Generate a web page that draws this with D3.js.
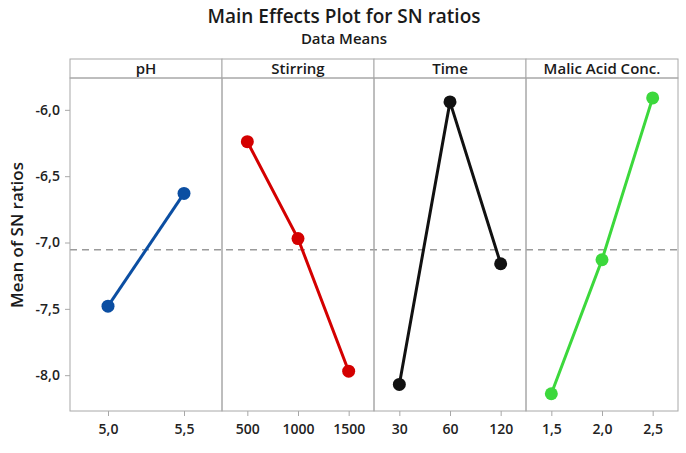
<!DOCTYPE html>
<html>
<head>
<meta charset="utf-8">
<script src="https://cdn.jsdelivr.net/npm/d3@7"></script>
<style>
  body { margin: 0; background: #fff; }
  svg { font-family: "Open Sans", sans-serif; }
</style>
</head>
<body>
<script>
const wid = 686, hei = 453;

// factors and their levels
const factors = ['pH', 'Stirring', 'Time', 'Malic Acid Conc.'];
const levels = [
    ['5,0', '5,5'],
    ['500', '1000', '1500'],
    ['30', '60', '120'],
    ['1,5', '2,0', '2,5']
];
// mean SN ratio per level
const snMeans = [
    [-7.48, -6.63],
    [-6.24, -6.97, -7.97],
    [-8.07, -5.94, -7.16],
    [-8.14, -7.13, -5.91]
];
const colors = ['#0b4ea2', '#d40000', '#111111', '#3cd83c'];
const yTicks = [-6.0, -6.5, -7.0, -7.5, -8.0];
const grandMean = -7.055;

const mLeft = 70, mRight = 678, mTop = 59, stripH = 19, mBottom = 411;

let svg = d3.select('body')
    .append('svg')
    .attr('width', wid)
    .attr('height', hei);

// title
svg.append('text')
    .attr('x', 344).attr('y', 23)
    .attr('text-anchor', 'middle')
    .attr('font-size', 19)
    .attr('font-weight', 600)
    .attr('fill', '#1a1a1a')
    .text('Main Effects Plot for SN ratios');
svg.append('text')
    .attr('x', 344).attr('y', 44)
    .attr('text-anchor', 'middle')
    .attr('font-size', 15)
    .attr('font-weight', 600)
    .attr('fill', '#1a1a1a')
    .text('Data Means');

// panels
let panelX = d3.scaleBand()
    .domain(factors)
    .range([mLeft, mRight])
    .paddingInner(0);

let y = d3.scaleLinear()
    .domain([-8.27, -5.76])
    .range([mBottom, mTop + stripH]);

const frameCol = '#a8a8a8';

// mean line (dashed) behind data
svg.append('line')
    .attr('x1', mLeft).attr('x2', mRight)
    .attr('y1', y(grandMean)).attr('y2', y(grandMean))
    .attr('stroke', '#9a9a9a')
    .attr('stroke-width', 1.5)
    .attr('stroke-dasharray', '7,5');

factors.forEach((f, i) => {
    let x0 = panelX(f), w = panelX.bandwidth();
    let g = svg.append('g');

    // strip
    g.append('rect')
        .attr('x', x0).attr('y', mTop)
        .attr('width', w).attr('height', stripH)
        .attr('fill', '#fff')
        .attr('stroke', frameCol);
    g.append('text')
        .attr('x', x0 + w / 2).attr('y', mTop + 15)
        .attr('text-anchor', 'middle')
        .attr('font-size', 15)
        .attr('font-weight', 600)
        .attr('fill', '#1a1a1a')
        .text(f);

    // panel border
    g.append('rect')
        .attr('x', x0).attr('y', mTop + stripH)
        .attr('width', w).attr('height', mBottom - mTop - stripH)
        .attr('fill', 'none')
        .attr('stroke', frameCol);

    let x = d3.scalePoint()
        .domain(levels[i])
        .range([x0, x0 + w])
        .padding(0.5);

    // x axis
    let ax = svg.append('g')
        .attr('transform', `translate(0,${mBottom})`)
        .call(d3.axisBottom(x).tickSize(5).tickSizeOuter(0));
    ax.select('.domain').remove();
    ax.selectAll('line').attr('stroke', frameCol);
    ax.selectAll('text')
        .attr('font-size', 14)
        .attr('font-family', '"Open Sans", sans-serif')
        .attr('font-weight', 600)
        .attr('fill', '#222')
        .attr('dy', '1.05em');

    let pts = levels[i].map((l, j) => ({lvl: l, v: snMeans[i][j]}));

    g.append('path')
        .datum(pts)
        .attr('fill', 'none')
        .attr('stroke', colors[i])
        .attr('stroke-width', 3)
        .attr('d', d3.line().x(d => x(d.lvl)).y(d => y(d.v)));

    g.selectAll('circle')
        .data(pts)
        .enter()
        .append('circle')
        .attr('cx', d => x(d.lvl))
        .attr('cy', d => y(d.v))
        .attr('r', 6.5)
        .attr('fill', colors[i]);
});

// y axis
let ay = svg.append('g')
    .attr('transform', `translate(${mLeft},0)`)
    .call(d3.axisLeft(y).tickValues(yTicks).tickSize(5)
        .tickFormat(d => d3.format('.1f')(d).replace('.', ',').replace('−', '-')));
ay.select('.domain').remove();
ay.selectAll('line').attr('stroke', frameCol);
ay.selectAll('text')
    .attr('font-size', 14)
    .attr('font-family', '"Open Sans", sans-serif')
    .attr('font-weight', 600)
    .attr('fill', '#222')
    .attr('dx', '-0.15em');

svg.append('text')
    .attr('transform', 'translate(23,235) rotate(-90)')
    .attr('text-anchor', 'middle')
    .attr('font-size', 17)
    .attr('font-weight', 600)
    .attr('fill', '#1a1a1a')
    .text('Mean of SN ratios');
</script>
</body>
</html>
